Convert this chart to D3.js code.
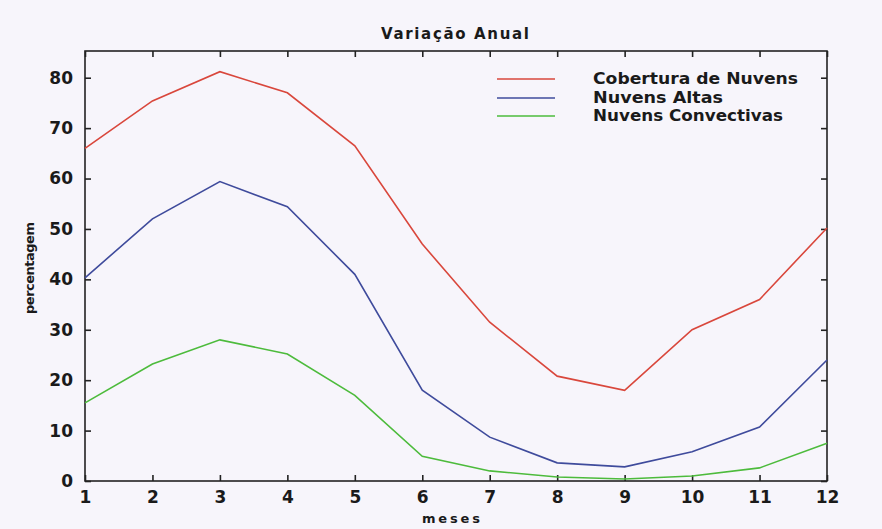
<!DOCTYPE html>
<html><head><meta charset="utf-8">
<script src="https://cdn.jsdelivr.net/npm/d3@7"></script>
<style>
html,body{margin:0;padding:0;background:#f7f5fb;}
svg{display:block;}
text{font-family:"DejaVu Sans",sans-serif;fill:#1a1a1a;}
</style></head>
<body>
<svg id="c" width="882" height="529"></svg>
<script>
const months = [1,2,3,4,5,6,7,8,9,10,11,12];
const cobertura = [66,75.4,81.2,77,66.5,47,31.5,20.8,18,30,36,50.2];
const altas = [40.3,52,59.4,54.4,41,18,8.7,3.6,2.8,5.8,10.7,24];
const convectivas = [15.5,23.2,28,25.2,17,4.9,2,0.8,0.4,1,2.6,7.5];
const seriesNames = ["Cobertura de Nuvens","Nuvens Altas","Nuvens Convectivas"];
const seriesColors = ["#d9473c","#3f4b9c","#4dbb3c"];
const yTicks = [0,10,20,30,40,50,60,70,80];
const chartTitle = "Variação Anual";
const xLabel = "meses";
const yLabel = "percentagem";

(function(){
const svg = d3.select("#c");
const m = {l:85, r:827, t:51, b:481};
const x = d3.scaleLinear().domain([1,12]).range([m.l, m.r]);
const y = d3.scaleLinear().domain([0,85.3]).range([m.b, m.t]);

svg.append("rect").attr("x",m.l).attr("y",m.t).attr("width",m.r-m.l).attr("height",m.b-m.t)
  .attr("fill","none").attr("stroke","#222").attr("stroke-width",1.6);

const tl = 6;
const gB = svg.append("g").attr("transform",`translate(0,${m.b})`)
  .call(d3.axisBottom(x).tickValues(months).tickSize(-tl).tickPadding(10).tickFormat(d3.format("d")));
const gT = svg.append("g").attr("transform",`translate(0,${m.t})`)
  .call(d3.axisTop(x).tickValues(months).tickSize(-tl).tickFormat(""));
const gL = svg.append("g").attr("transform",`translate(${m.l},0)`)
  .call(d3.axisLeft(y).tickValues(yTicks).tickSize(-tl).tickPadding(12).tickFormat(d3.format("d")));
const gR = svg.append("g").attr("transform",`translate(${m.r},0)`)
  .call(d3.axisRight(y).tickValues(yTicks).tickSize(-tl).tickFormat(""));
[gB,gT,gL,gR].forEach(g=>{
  g.select(".domain").remove();
  g.selectAll(".tick line").attr("stroke","#222").attr("stroke-width",1.6);
  g.selectAll(".tick text").attr("font-size",17).attr("font-weight","bold").attr("fill","#1a1a1a")
   .attr("font-family","'DejaVu Sans',sans-serif");
});

const line = d3.line().x((d,i)=>x(months[i])).y(d=>y(d));
[cobertura,altas,convectivas].forEach((s,i)=>{
  svg.append("path").datum(s).attr("d",line).attr("fill","none")
    .attr("stroke",seriesColors[i]).attr("stroke-width",1.6);
});

svg.append("text").attr("x",455).attr("y",39).attr("text-anchor","middle")
  .attr("font-size",15).attr("font-weight","bold").attr("textLength",148).text(chartTitle);
svg.append("text").attr("x",451).attr("y",523).attr("text-anchor","middle")
  .attr("font-size",13).attr("font-weight","bold").attr("textLength",58).text(xLabel);
svg.append("text").attr("transform","translate(34,268) rotate(-90)").attr("text-anchor","middle")
  .attr("font-size",13).attr("font-weight","bold").attr("textLength",92).text(yLabel);

const ly = [79,98,116];
const lw = [205,130,190];
seriesNames.forEach((n,i)=>{
  svg.append("line").attr("x1",497).attr("x2",555).attr("y1",ly[i]).attr("y2",ly[i])
    .attr("stroke",seriesColors[i]).attr("stroke-width",1.6);
  svg.append("text").attr("x",593).attr("y",ly[i]+5).attr("font-size",15).attr("font-weight","bold")
    .attr("textLength",lw[i]).attr("lengthAdjust","spacingAndGlyphs").text(n);
});
})();
</script>
</body></html>
